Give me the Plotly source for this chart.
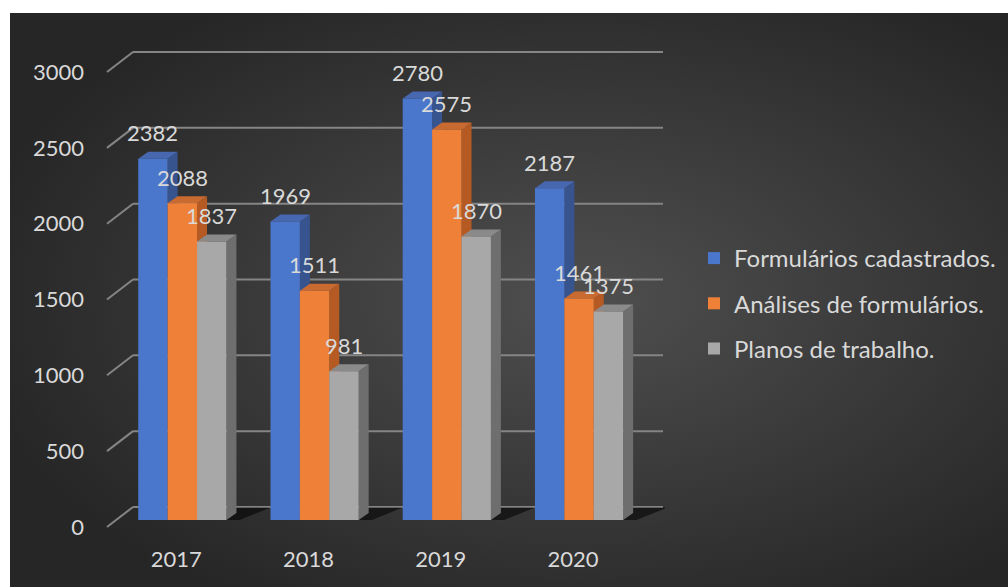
import base64
import plotly.graph_objects as go

# ---- data ----
years = ["2017", "2018", "2019", "2020"]
series_names = ["Formulários cadastrados.", "Análises de formulários.", "Planos de trabalho."]
formularios = [2382, 1969, 2780, 2187]
analises = [2088, 1511, 2575, 1461]
planos = [1837, 981, 1870, 1375]
y_ticks = [0, 500, 1000, 1500, 2000, 2500, 3000]

# ---- styling ----
front_colors = ["#4a76cc", "#ef8038", "#a8a8a8"]
side_colors = ["#37548f", "#b65a24", "#6e6e6e"]
top_colors = ["#4767b0", "#c96a30", "#8a8a8a"]
text_color = "#d9d9d9"
grid_color = "#858585"
font_family = "Lato"
font_size = 22

W, H = 1008, 587
ML, MR, MT, MB = 103, 343, 40, 47
PW, PH = W - ML - MR, H - MT - MB
Y_MIN, Y_MAX = -132, 3165
X_MIN, X_MAX = -0.6, 3.65
BARGAP = 0.333

px_per_cat = PW / (X_MAX - X_MIN)
px_per_unit = PH / (Y_MAX - Y_MIN)

# 3-D depth of the columns (pixels) converted into axis units
DEPTH_PX = (10, 7)
ddx = DEPTH_PX[0] / px_per_cat
ddy = DEPTH_PX[1] / px_per_unit

values = [formularios, analises, planos]
xs = list(range(len(years)))
group_w = 1 - BARGAP
bw = group_w / len(values)


def bar_left(ci, si):
    return xs[ci] - group_w / 2 + si * bw


shapes = []

# back-wall gridlines and the diagonal leaders from the tick labels
WALL_X0, WALL_X1, WALL_DY = 30, 560, 13
for v in y_ticks:
    shapes.append(dict(type="line", xref="paper", yref="y",
                       xsizemode="pixel", ysizemode="pixel",
                       xanchor=0, yanchor=v, x0=WALL_X0, x1=WALL_X1,
                       y0=WALL_DY, y1=WALL_DY,
                       line=dict(color=grid_color, width=2), layer="below"))
    shapes.append(dict(type="line", xref="paper", yref="y",
                       xsizemode="pixel", ysizemode="pixel",
                       xanchor=0, yanchor=v, x0=4, x1=WALL_X0, y0=-7, y1=WALL_DY,
                       line=dict(color=grid_color, width=2), layer="below"))

# floor shadows behind each group
for ci in range(len(years)):
    xr = bar_left(ci, len(values))
    path = (f"M{xr},0 L{xr + ddx},{ddy * 1.8} L{xr + ddx + 0.26},{ddy * 1.8} "
            f"L{xr + 0.1},0 Z")
    shapes.append(dict(type="path", xref="x", yref="y", path=path,
                       fillcolor="rgba(0,0,0,0.55)", line=dict(width=0), layer="below"))

# side and top faces of the columns
for si, vals in enumerate(values):
    for ci, v in enumerate(vals):
        xl = bar_left(ci, si)
        xr = xl + bw
        side = f"M{xr},0 L{xr + ddx},{ddy} L{xr + ddx},{v + ddy} L{xr},{v} Z"
        top = f"M{xl},{v} L{xl + ddx},{v + ddy} L{xr + ddx},{v + ddy} L{xr},{v} Z"
        shapes.append(dict(type="path", xref="x", yref="y", path=side,
                           fillcolor=side_colors[si], line=dict(width=0), layer="below"))
        shapes.append(dict(type="path", xref="x", yref="y", path=top,
                           fillcolor=top_colors[si], line=dict(width=0), layer="below"))

fig = go.Figure()
for si, (name, vals) in enumerate(zip(series_names, values)):
    fig.add_trace(go.Bar(
        x=xs, y=vals, name=name, legendgroup=name,
        marker=dict(color=front_colors[si], line=dict(width=0)),
        hoverinfo="skip",
    ))

# value labels above each column
annotations = []
for si, vals in enumerate(values):
    for ci, v in enumerate(vals):
        annotations.append(dict(
            x=bar_left(ci, si) + bw / 2, y=v, xref="x", yref="y",
            text=str(v), showarrow=False, yanchor="middle", yshift=26,
            font=dict(family=font_family, size=font_size, color=text_color),
        ))

# radial-gradient chart background
svg = (
    '<svg xmlns="http://www.w3.org/2000/svg" width="998" height="574" '
    'viewBox="0 0 998 574" preserveAspectRatio="none">'
    '<defs><radialGradient id="g" cx="0.57" cy="0.5" r="0.62">'
    '<stop offset="0" stop-color="#4f4f4f"/><stop offset="1" stop-color="#262626"/>'
    '</radialGradient></defs>'
    '<rect width="998" height="574" fill="url(#g)"/></svg>'
)
bg_src = "data:image/svg+xml;base64," + base64.b64encode(svg.encode()).decode()
bg_x0, bg_y0 = 10, 13
images = [dict(
    source=bg_src, xref="paper", yref="paper",
    x=(bg_x0 - ML) / PW, y=(H - MB - bg_y0) / PH,
    sizex=(W - bg_x0) / PW, sizey=(H - bg_y0) / PH,
    xanchor="left", yanchor="top", sizing="stretch", layer="below",
)]

fig.update_layout(
    width=W, height=H,
    margin=dict(l=ML, r=MR, t=MT, b=MB, pad=0),
    paper_bgcolor="white", plot_bgcolor="rgba(0,0,0,0)",
    barmode="group", bargap=BARGAP, bargroupgap=0,
    font=dict(family=font_family, size=font_size, color=text_color),
    shapes=shapes, annotations=annotations, images=images,
    showlegend=True,
    legend=dict(
        xref="container", yref="container",
        x=694 / W, y=1 - 236 / H, xanchor="left", yanchor="top",
        bgcolor="rgba(0,0,0,0)", traceorder="grouped", tracegroupgap=11,
        font=dict(family=font_family, size=24, color=text_color),
    ),
    xaxis=dict(range=[X_MIN, X_MAX], tickmode="array", tickvals=xs, ticktext=years,
               showgrid=False, zeroline=False, showline=False, ticks="",
               ticklabelshift=-6, ticklabelstandoff=4, fixedrange=True),
    yaxis=dict(range=[Y_MIN, Y_MAX], tickmode="array", tickvals=y_ticks,
               showgrid=False, zeroline=False, showline=False, ticks="",
               ticklabelshift=7, ticklabelstandoff=18, fixedrange=True),
)

fig.write_html("out.html")
